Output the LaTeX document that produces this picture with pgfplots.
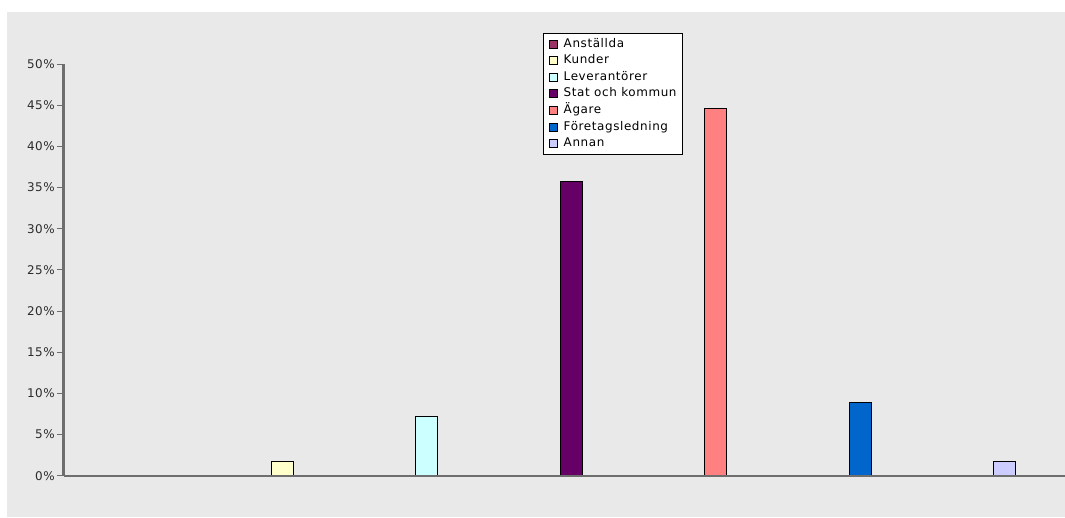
\documentclass[border=0pt]{standalone}
\usepackage{pgfplots}
\pgfplotsset{compat=1.18}
\usepackage{fontspec}
\setmainfont{DejaVu Sans}[LetterSpace=5]

\definecolor{bg}{HTML}{E9E9E9}
\definecolor{axisgray}{HTML}{6E6E6E}
\definecolor{labelgray}{HTML}{2B2B2B}
\definecolor{cAnst}{HTML}{993366}
\definecolor{cKund}{HTML}{FFFFCC}
\definecolor{cLev}{HTML}{CCFFFF}
\definecolor{cStat}{HTML}{660066}
\definecolor{cAgare}{HTML}{FF8080}
\definecolor{cFor}{HTML}{0066CC}
\definecolor{cAnnan}{HTML}{CCCCFF}

\pgfplotsset{
  sqlegend/.style={
    legend image code/.code={
      \draw[##1, draw=black, line width=0.8bp] (0bp,-4bp) rectangle (8bp,4bp);
    }
  },
  onebar/.style={fill=#1, draw=black, line width=0.9bp, bar shift=0pt, sqlegend},
}

\begin{document}
\begin{tikzpicture}
  % page and panel
  \useasboundingbox (0,0) rectangle (1065bp,518bp);
  \fill[white] (0,0) rectangle (1065bp,518bp);
  \fill[bg] (7bp,1bp) rectangle (1065bp,506bp);

  \begin{axis}[
    at={(63.5bp,42.3bp)}, anchor=south west,
    scale only axis, width=1001.5bp, height=411.7bp,
    xmin=-0.517, xmax=6.42, ymin=0, ymax=50,
    ybar, bar width=22bp,
    axis on top,
    axis x line*=bottom, axis y line*=left,
    axis line style={-, draw=axisgray, line width=2bp},
    xtick=\empty,
    ytick={0,5,...,50},
    tick align=outside, major tick length=6bp,
    tick style={draw=axisgray, line width=1bp},
    /pgf/number format/assume math mode=true,
    yticklabel={\pgfmathprintnumber{\tick}\%},
    yticklabel style={font=\fontsize{12}{14}\selectfont, text=labelgray, inner sep=0pt, anchor=east, xshift=-2.5bp},
    legend style={
      at={(rel axis cs:0.4788,1.0753)}, anchor=north west,
      draw=black, fill=white, line width=0.8bp,
      font=\fontsize{12}{14}\selectfont,
      inner xsep=5.5bp, inner ysep=5bp,
      row sep=5.2bp,
      nodes={inner sep=0pt, text height=8.8bp, text depth=2.6bp},
      column sep=0bp,
    },
    legend cell align=left,
  ]
    \addplot[onebar=cAnst]  coordinates {(0,0)};
    \addlegendentry{\hspace{6bp}Anställda}
    \addplot[onebar=cKund]  coordinates {(1,1.79)};
    \addlegendentry{\hspace{6bp}Kunder}
    \addplot[onebar=cLev]   coordinates {(2,7.14)};
    \addlegendentry{\hspace{6bp}Leverantörer}
    \addplot[onebar=cStat]  coordinates {(3,35.71)};
    \addlegendentry{\hspace{6bp}Stat och kommun}
    \addplot[onebar=cAgare] coordinates {(4,44.64)};
    \addlegendentry{\hspace{6bp}Ägare}
    \addplot[onebar=cFor]   coordinates {(5,8.93)};
    \addlegendentry{\hspace{6bp}Företagsledning}
    \addplot[onebar=cAnnan] coordinates {(6,1.79)};
    \addlegendentry{\hspace{6bp}Annan}
  \end{axis}
\end{tikzpicture}
\end{document}
